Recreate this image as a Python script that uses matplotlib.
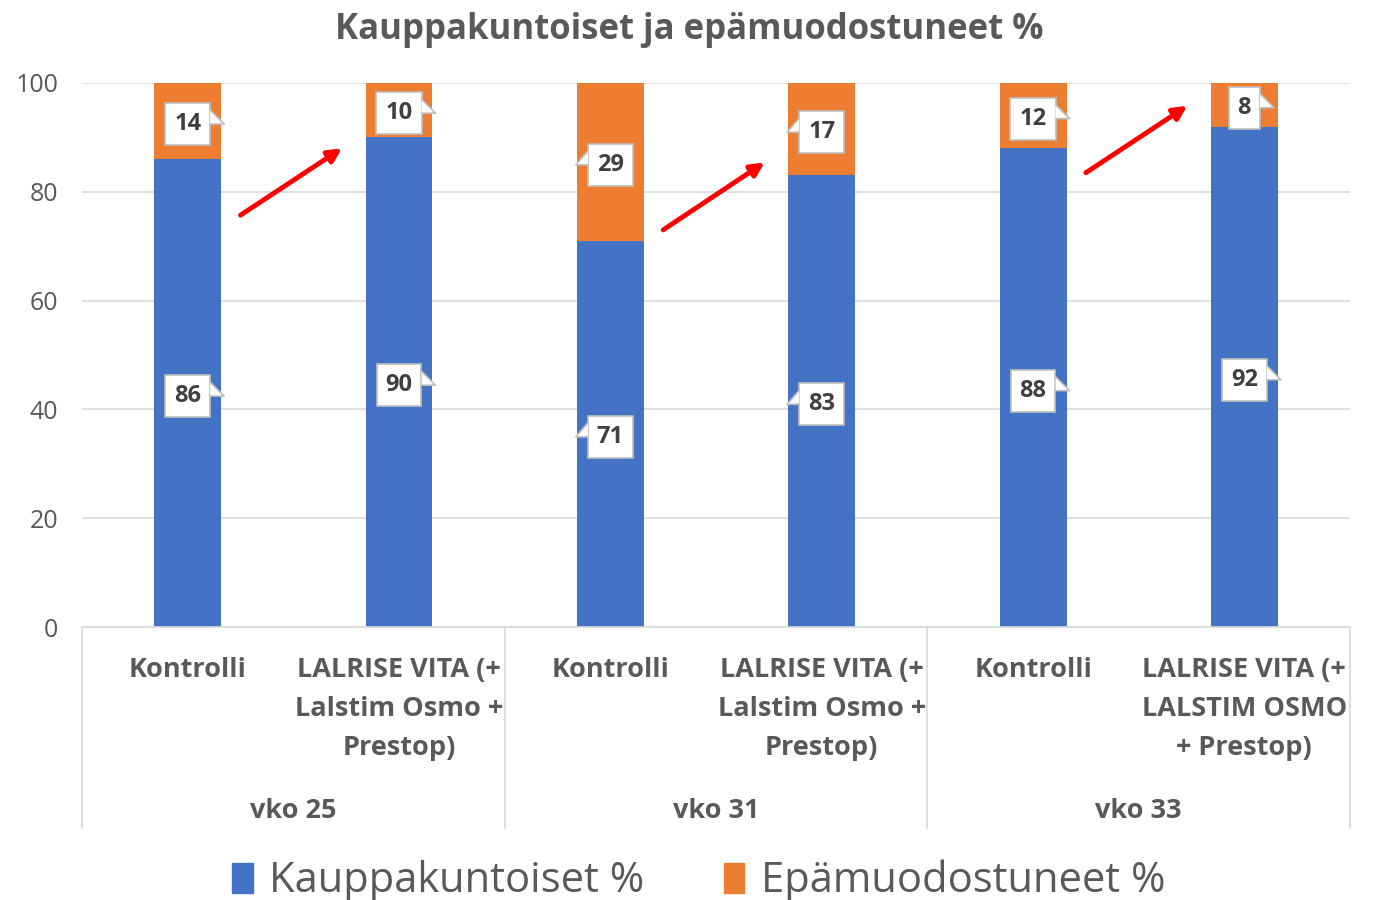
import matplotlib.pyplot as plt
import matplotlib.transforms as mtransforms
from matplotlib.patches import Polygon, Patch

plt.rcParams['font.family'] = ['Open Sans', 'DejaVu Sans']

# data
categories = ['Kontrolli', 'LALRISE VITA (+\nLalstim Osmo +\nPrestop)',
              'Kontrolli', 'LALRISE VITA (+\nLalstim Osmo +\nPrestop)',
              'Kontrolli', 'LALRISE VITA (+\nLALSTIM OSMO\n+ Prestop)']
groups = ['vko 25', 'vko 31', 'vko 33']
kauppakuntoiset = [86, 90, 71, 83, 88, 92]
epamuodostuneet = [14, 10, 29, 17, 12, 8]
# callout pointer side for each label
blue_side = ['r', 'r', 'l', 'l', 'r', 'r']
orange_side = ['r', 'r', 'l', 'l', 'r', 'r']
# red arrows: (bar index, start y, end y)
arrows = [(0, 75.7, 88.0), (2, 73.0, 85.4), (4, 83.5, 95.8)]

blue = '#4472C4'
orange = '#ED7D31'
grey_txt = '#595959'
grid_c = '#D9D9D9'

fig = plt.figure(figsize=(13.78, 9), dpi=100)
ax = fig.add_axes([0.0595, 0.3033, 0.9202, 0.6045])

x = list(range(len(categories)))
ax.bar(x, kauppakuntoiset, width=0.317, color=blue, zorder=2)
ax.bar(x, epamuodostuneet, width=0.317, bottom=kauppakuntoiset, color=orange, zorder=2)

ax.set_xlim(-0.5, 5.5)
ax.set_ylim(0, 100)
ax.set_yticks(range(0, 101, 20))
ax.tick_params(axis='y', length=0, labelsize=18, labelcolor=grey_txt, pad=17)
ax.set_xticks([])
ax.grid(axis='y', color=grid_c, lw=1.2, zorder=0)
for s in ['left', 'right', 'top']:
    ax.spines[s].set_visible(False)
ax.spines['bottom'].set_color(grid_c)
ax.spines['bottom'].set_linewidth(1.2)

# labels sit a few pixels lower than the exact segment centre
lab_trans = mtransforms.offset_copy(ax.transData, fig, 0, -3, units='dots')
labels = []
for i in x:
    for yc, val, side in [(kauppakuntoiset[i] / 2, kauppakuntoiset[i], blue_side[i]),
                          (kauppakuntoiset[i] + epamuodostuneet[i] / 2, epamuodostuneet[i], orange_side[i])]:
        t = ax.text(i, yc, str(val), ha='center', va='center', fontsize=17,
                    fontweight='bold', color='#404040', zorder=5, transform=lab_trans,
                    bbox=dict(boxstyle='square,pad=0.38', fc='white', ec='#BFBFBF', lw=1.2))
        labels.append((t, side))

for i, y0, y1 in arrows:
    ax.annotate('', xy=(i + 0.73, y1), xytext=(i + 0.25, y0),
                arrowprops=dict(arrowstyle='-|>,head_length=0.8,head_width=0.4',
                                color='#FF0000', lw=3.5, shrinkA=0, shrinkB=0),
                zorder=7)

# multi-level x axis
tb = mtransforms.blended_transform_factory(ax.transData, ax.transAxes)
for i, lab in enumerate(categories):
    ax.text(i, -0.056, lab, transform=tb, ha='center', va='top', fontsize=19.5,
            fontweight='bold', color=grey_txt, linespacing=1.65)
for g, lab in enumerate(groups):
    ax.text(2 * g + 0.5, -0.338, lab, transform=tb, ha='center', va='center',
            fontsize=19.5, fontweight='bold', color=grey_txt)
for xs in [-0.5, 1.5, 3.5, 5.5]:
    ax.plot([xs, xs], [0, -0.37], transform=tb, color=grid_c, lw=1.2, clip_on=False)

fig.text(0.5, 0.967, 'Kauppakuntoiset ja epämuodostuneet %', ha='center', va='center',
         fontsize=25, fontweight='bold', color=grey_txt)

handles = [Patch(color=blue, label='Kauppakuntoiset %'),
           Patch(color=orange, label='Epämuodostuneet %')]
fig.legend(handles=handles, loc='center', bbox_to_anchor=(0.507, 0.021), ncol=2,
           frameon=False, fontsize=30, handlelength=0.5, handleheight=0.75,
           handletextpad=0.4, columnspacing=1.9, labelcolor=grey_txt)

# callout pointers, drawn from the rendered label boxes
fig.canvas.draw()
inv = fig.transFigure.inverted()
for t, side in labels:
    bb = t.get_bbox_patch().get_window_extent()
    cy = (bb.y0 + bb.y1) / 2
    if side == 'r':
        ex, tip = bb.x1, bb.x1 + 14
    else:
        ex, tip = bb.x0, bb.x0 - 12
    pts = [(ex, cy + 14), (tip, cy), (ex, cy)]
    pts = inv.transform(pts)
    fig.add_artist(Polygon(pts, closed=True, transform=fig.transFigure, fc='white',
                           ec='none', zorder=6))
    fig.add_artist(plt.Line2D([pts[0][0], pts[1][0], pts[2][0]],
                              [pts[0][1], pts[1][1], pts[2][1]],
                              transform=fig.transFigure, color='#BFBFBF', lw=1.2, zorder=6))

fig.savefig('out.png', dpi=100)
